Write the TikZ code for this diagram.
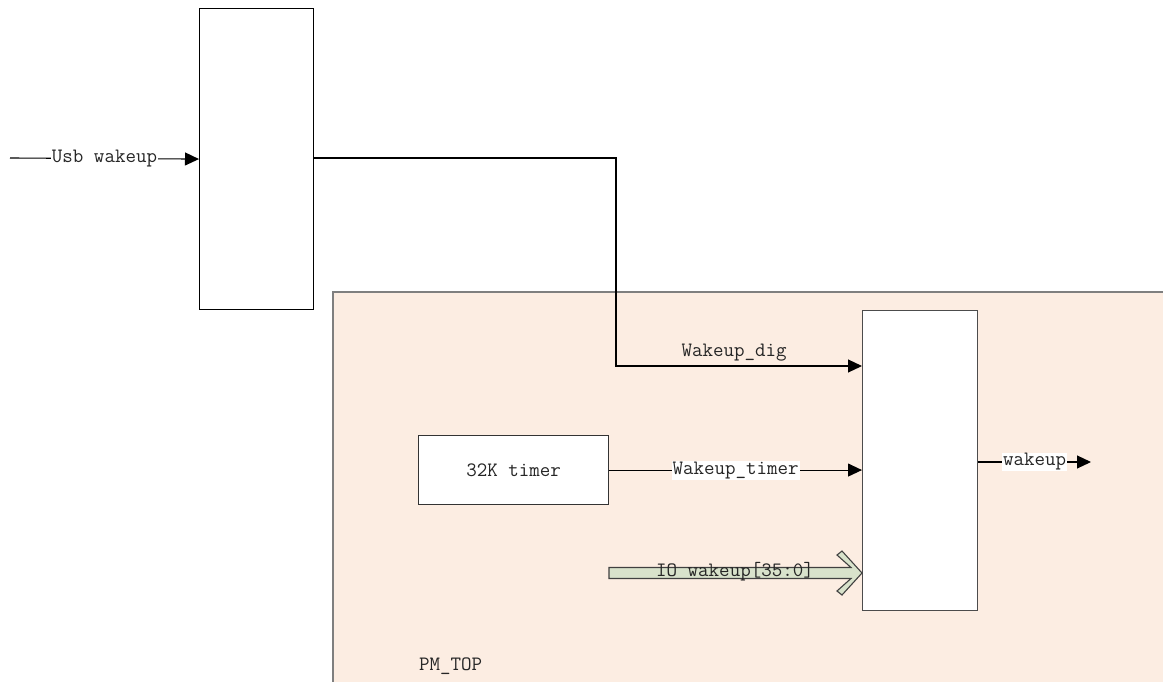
\documentclass[tikz,border=0pt]{standalone}
\usepackage{fontspec}
\usetikzlibrary{arrows.meta}
\definecolor{peach}{HTML}{FCEDE2}
\definecolor{boxgray}{HTML}{7F7F7F}
\definecolor{iogreen}{HTML}{D8E2CB}
\tikzset{
  blk/.style={draw=black, fill=white, line width=1.1pt, inner sep=0pt, minimum width=#1},
  sig/.style={line width=1.1pt, -{Triangle[length=14pt,width=13pt]}},
  lbl/.style={font=\ttfamily\fontsize{20.4}{22}\selectfont, text=black!85, inner sep=1pt},
  lblw/.style={lbl, fill=white}
}
\begin{document}
\begin{tikzpicture}[x=1pt,y=-1pt]
\useasboundingbox (0,0) rectangle (1163,682);
\clip (0,0) rectangle (1163,682);
% PM_TOP region
\node[draw=boxgray, fill=peach, line width=1.8pt, minimum width=840pt, minimum height=400pt, anchor=north west, inner sep=0pt] (pm) at (332,291) {};
\node[lbl, anchor=base west] (pmlabel) at (418,670) {PM\_TOP};
% blocks
\node[blk=114pt, minimum height=301pt, anchor=north west, draw=black] (mux1) at (199,8) {};
\node[blk=115pt, minimum height=300pt, anchor=north west, draw=black!70] (mux2) at (862,310) {};
\node[blk=190pt, minimum height=69pt, anchor=north west, draw=black!80, lbl] (timer) at (418,435) {32K timer};
% Usb wakeup input
\coordinate (usbin) at (10,158);
\draw[sig] (usbin) -- node[lblw, pos=0.5] {Usb wakeup} (mux1.west);
% Wakeup_dig
\coordinate (bend1) at (616,158);
\coordinate (bend2) at (616,366);
\draw[sig] (mux1.east |- bend1) -- (bend1) -- (bend2) -- node[lbl, above=3pt, pos=0.48] {Wakeup\_dig} (mux2.west |- bend2);
% Wakeup_timer
\draw[sig] (timer.east) -- node[lblw, pos=0.5] {Wakeup\_timer} (timer.east -| mux2.west);
% IO wakeup fat arrow
\draw[draw=black!75, fill=iogreen, line width=1.1pt, line join=miter]
  (609,567.5) -- (851,567.5) -- (837,555) -- (842,551) -- (862,573) -- (842,595) -- (837,591) -- (851,578.5) -- (609,578.5) -- cycle;
\node[lbl] (iolabel) at (735,572) {IO wakeup[35:0]};
% output
\coordinate (wout) at (1091,462);
\draw[sig] (mux2.east |- wout) -- node[lblw, pos=0.5] {wakeup} (wout);
\end{tikzpicture}
\end{document}
